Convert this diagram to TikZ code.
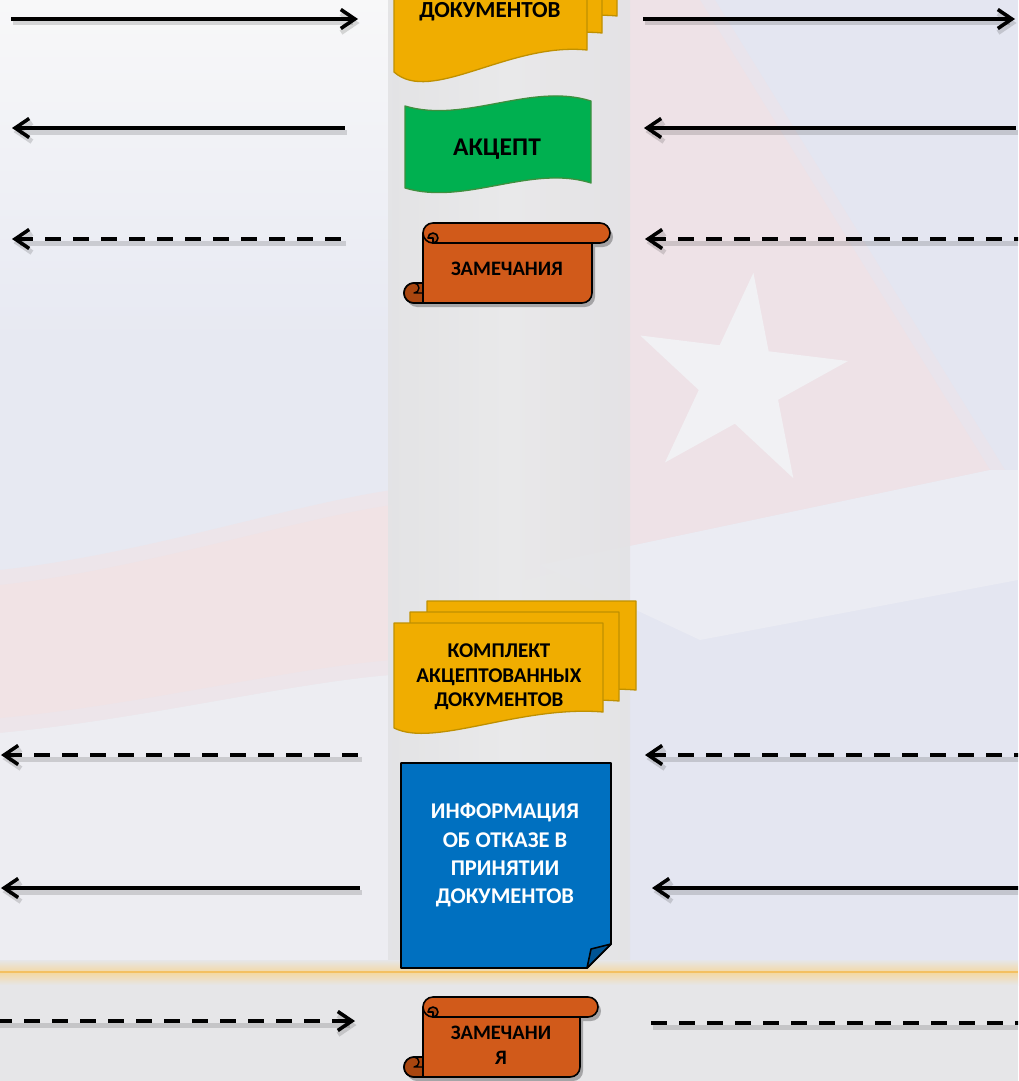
\documentclass[tikz,border=0pt]{standalone}
\usepackage{fontspec}
\setmainfont{Carlito}
\usetikzlibrary{arrows.meta,shadows}
\definecolor{docy}{HTML}{F0AD00}
\definecolor{docyb}{HTML}{BF9000}
\definecolor{accg}{HTML}{00B050}
\definecolor{accgb}{HTML}{3F8F3F}
\definecolor{scro}{HTML}{D15A1A}
\definecolor{scrod}{HTML}{A9460F}
\definecolor{infb}{HTML}{0070C0}
\definecolor{infbd}{HTML}{005494}
\definecolor{bgbase}{HTML}{E9EAEF}
\definecolor{bgwhite}{HTML}{F8F8F9}
\definecolor{bglav}{HTML}{E7E9F2}
\definecolor{bgpink}{HTML}{F1E3E5}
\definecolor{bgpinkedge}{HTML}{EDE5EA}
\definecolor{bglow}{HTML}{EDEDF2}
\definecolor{bgright}{HTML}{E4E6F1}
\definecolor{bgred}{HTML}{EEE2E7}
\definecolor{bgrededge}{HTML}{E9E4EC}
\definecolor{bgstripe}{HTML}{EBECF3}
\definecolor{bgstar}{HTML}{F1F1F4}
\definecolor{colL}{HTML}{E3E3E5}
\definecolor{colM}{HTML}{E9E9EA}
\definecolor{bgbot}{HTML}{E6E6E8}
\definecolor{glow}{HTML}{F4D8A2}
\definecolor{glowline}{HTML}{F3C062}
\begin{document}
\begin{tikzpicture}[x=1pt,y=-1pt,line join=round,
  ln/.style={line width=3.6pt,draw=black},
  dsh/.style={dash pattern=on 16pt off 12pt},
  hr/.style={-{Straight Barb[length=14pt,width=19pt]}},
  hl/.style={{Straight Barb[length=14pt,width=19pt]}-},
  shd/.style={preaction={draw=black,opacity=.14,line width=5pt,transform canvas={shift={(1.5pt,-4pt)}}}},
  docshape/.style={fill=docy,draw=docyb,line width=1.3pt},
  accshape/.style={fill=accg,draw=accgb,line width=1.3pt},
  scrbody/.style={fill=scro,draw=black,line width=1.6pt},
  scrcurl/.style={fill=scrod,draw=black,line width=1.6pt},
  infshape/.style={fill=infb,draw=black,line width=1.8pt},
  txt/.style={inner sep=0pt,align=center,font=\bfseries},
  pics/scrollshape/.style={code={
    \fill[black,opacity=.28,shift={(3,4)}]
      (19,10) -- (19,60) -- (10,60) arc[start angle=270,end angle=90,radius=10]
      -- ({#1-28},80) arc[start angle=90,end angle=0,radius=10] -- ({#1-18},20) -- cycle
      (29,0) -- ({#1-10},0) arc[start angle=270,end angle=450,radius=10]
      -- (29,20) arc[start angle=90,end angle=270,radius=10] -- cycle;
    \path[scrbody] (19,10) -- (19,60) -- (10,60) arc[start angle=270,end angle=90,radius=10]
      -- ({#1-28},80) arc[start angle=90,end angle=0,radius=10] -- ({#1-18},20) -- (29,20) -- cycle;
    \path[scrbody] (29,0) -- ({#1-10},0) arc[start angle=270,end angle=450,radius=10]
      -- (29,20) arc[start angle=90,end angle=270,radius=10] -- cycle;
    \path[scrcurl] (29,20) arc[start angle=90,end angle=-180,radius=5] -- (29,15) -- cycle;
    \draw[black,line width=1.6pt] (29,20) -- (36,20);
    \path[scrcurl] (10,60) arc[start angle=270,end angle=90,radius=10] -- (19,80) -- (19,60) -- cycle;
    \draw[black,line width=1.4pt] (10,60) arc[start angle=270,end angle=450,radius=5] -- (19,70);
  }}
]
\useasboundingbox (0,0) rectangle (1018,1081);
\clip (0,0) rectangle (1018,1081);

% ---------- background (faded flags) ----------
\fill[bgbase] (0,0) rectangle (1018,1081);
\shade[top color=bgwhite, bottom color=bglav] (0,0) rectangle (392,340);
\fill[bglav] (0,340) rectangle (392,620);
\fill[bgpinkedge] (0,570) .. controls (140,555) and (290,505) .. (392,490) -- (392,675)
  .. controls (290,683) and (140,720) .. (0,733) -- cycle;
\fill[bgpink] (0,585) .. controls (140,570) and (290,520) .. (392,505) -- (392,660)
  .. controls (290,668) and (140,705) .. (0,718) -- cycle;
\fill[bglow] (0,733) .. controls (140,720) and (290,683) .. (392,675) -- (392,965) -- (0,965) -- cycle;
\fill[bgright] (628,0) rectangle (1018,965);
\fill[bgrededge] (525,0) -- (715,0) -- (1005,470) -- (525,580) -- cycle;
\fill[bgred] (540,0) -- (700,0) -- (990,470) -- (540,565) -- cycle;
\fill[bgstripe] (540,565) -- (990,470) -- (1018,470) -- (1018,580) -- (700,640) -- cycle;
\begin{scope}[shift={(740,382)}]
  \fill[bgstar] (277:110) -- (313:42) -- (349:110) -- (25:42) -- (61:110) -- (97:42)
    -- (133:110) -- (169:42) -- (205:110) -- (241:42) -- cycle;
\end{scope}
\shade[left color=colL, right color=colL, middle color=colM, opacity=.9] (388,0) rectangle (630,965);
\fill[bgbot] (0,965) rectangle (1018,1081);
\shade[top color=bgbot, bottom color=bgbot, middle color=glow] (0,960) rectangle (1018,985);
\draw[glowline,line width=1.4pt] (0,972) -- (1018,972);

% ---------- top multidocument ----------
\begin{scope}[shift={(30,-34)}]
  \path[docshape] (394,-130) -- (587,-130) -- (587,50) .. controls (509,42) and (431,105) .. (394,72) -- cycle;
\end{scope}
\begin{scope}[shift={(15,-17)}]
  \path[docshape] (394,-130) -- (587,-130) -- (587,50) .. controls (509,42) and (431,105) .. (394,72) -- cycle;
\end{scope}
\path[docshape] (394,-130) -- (587,-130) -- (587,50) .. controls (509,42) and (431,105) .. (394,72) -- cycle;
\node[txt,anchor=base,font=\bfseries\fontsize{23}{27}\selectfont] (doc1) at (490,18) {ДОКУМЕНТОВ};

% ---------- accept (wave) ----------
\path[accshape] (405,106) .. controls (465,124) and (531,82) .. (591,101) -- (591,183)
  .. controls (531,164) and (465,206) .. (405,188) -- cycle;
\node[txt,anchor=base,font=\bfseries\fontsize{25.5}{30}\selectfont] (acc) at (497,155) {АКЦЕПТ};

% ---------- remarks scroll 1 ----------
\pic at (404,223) {scrollshape=206};
\node[txt,anchor=base,font=\bfseries\fontsize{20.5}{25}\selectfont] (rem1) at (507,275) {ЗАМЕЧАНИЯ};

% ---------- accepted documents ----------
\begin{scope}[shift={(33,-22)}]
  \path[docshape] (394,623) -- (603,623) -- (603,712) .. controls (520,705) and (434,748) .. (394,728) -- cycle;
\end{scope}
\begin{scope}[shift={(16,-11)}]
  \path[docshape] (394,623) -- (603,623) -- (603,712) .. controls (520,705) and (434,748) .. (394,728) -- cycle;
\end{scope}
\path[docshape] (394,623) -- (603,623) -- (603,712) .. controls (520,705) and (434,748) .. (394,728) -- cycle;
\node[txt,font=\bfseries\fontsize{21}{24.5}\selectfont] (komp) at (499,677) {КОМПЛЕКТ\\АКЦЕПТОВАННЫХ\\ДОКУМЕНТОВ};

% ---------- refusal info ----------
\path[infshape] (401,763) -- (611,763) -- (611,944) -- (587,968) -- (401,968) -- cycle;
\path[fill=infbd,draw=black,line width=1.6pt] (587,968) -- (591,949) -- (611,944) -- cycle;
\node[txt,text=white,font=\bfseries\fontsize{22.5}{28.3}\selectfont] (info) at (505,855.5) {ИНФОРМАЦИЯ\\ОБ ОТКАЗЕ В\\ПРИНЯТИИ\\ДОКУМЕНТОВ};

% ---------- remarks scroll 2 ----------
\pic at (404,997) {scrollshape=194};
\node[txt,font=\bfseries\fontsize{20.5}{25}\selectfont] (rem2) at (501,1045) {ЗАМЕЧАНИ\\Я};

% ---------- connectors ----------
\coordinate (a1s) at (11,19);    \coordinate (a1e) at (358,19);
\coordinate (b1s) at (643,19);   \coordinate (b1e) at (1015,19);
\coordinate (a2t) at (12,128);   \coordinate (a2e) at (345,128);
\coordinate (b2t) at (644,128);  \coordinate (b2e) at (1016,128);
\coordinate (a3t) at (12,239);   \coordinate (a3e) at (344,239);
\coordinate (b3t) at (645,239);  \coordinate (b3e) at (1022,239);
\coordinate (a4t) at (1,755);    \coordinate (a4e) at (360,755);
\coordinate (b4t) at (645,755);  \coordinate (b4e) at (1022,755);
\coordinate (a5t) at (1,888);    \coordinate (a5e) at (360,888);
\coordinate (b5t) at (652,888);  \coordinate (b5e) at (1022,888);
\coordinate (a6s) at (-4,1021);  \coordinate (a6t) at (355,1021);
\coordinate (b6s) at (651,1023); \coordinate (b6e) at (1022,1023);

\draw[ln,hr,shd] (a1s) -- (a1e);
\draw[ln,hr,shd] (b1s) -- (b1e);
\draw[ln,hl,shd] (a2t) -- (a2e);
\draw[ln,hl,shd] (b2t) -- (b2e);
\draw[ln,hl,dsh,shd] (a3t) -- (a3e);
\draw[ln,hl,dsh,shd] (b3t) -- (b3e);
\draw[ln,hl,dsh,shd] (a4t) -- (a4e);
\draw[ln,hl,dsh,shd] (b4t) -- (b4e);
\draw[ln,hl,shd] (a5t) -- (a5e);
\draw[ln,hl,shd] (b5t) -- (b5e);
\draw[ln,hr,dsh,shd] (a6s) -- (a6t);
\draw[ln,dsh,shd] (b6s) -- (b6e);
\end{tikzpicture}
\end{document}
